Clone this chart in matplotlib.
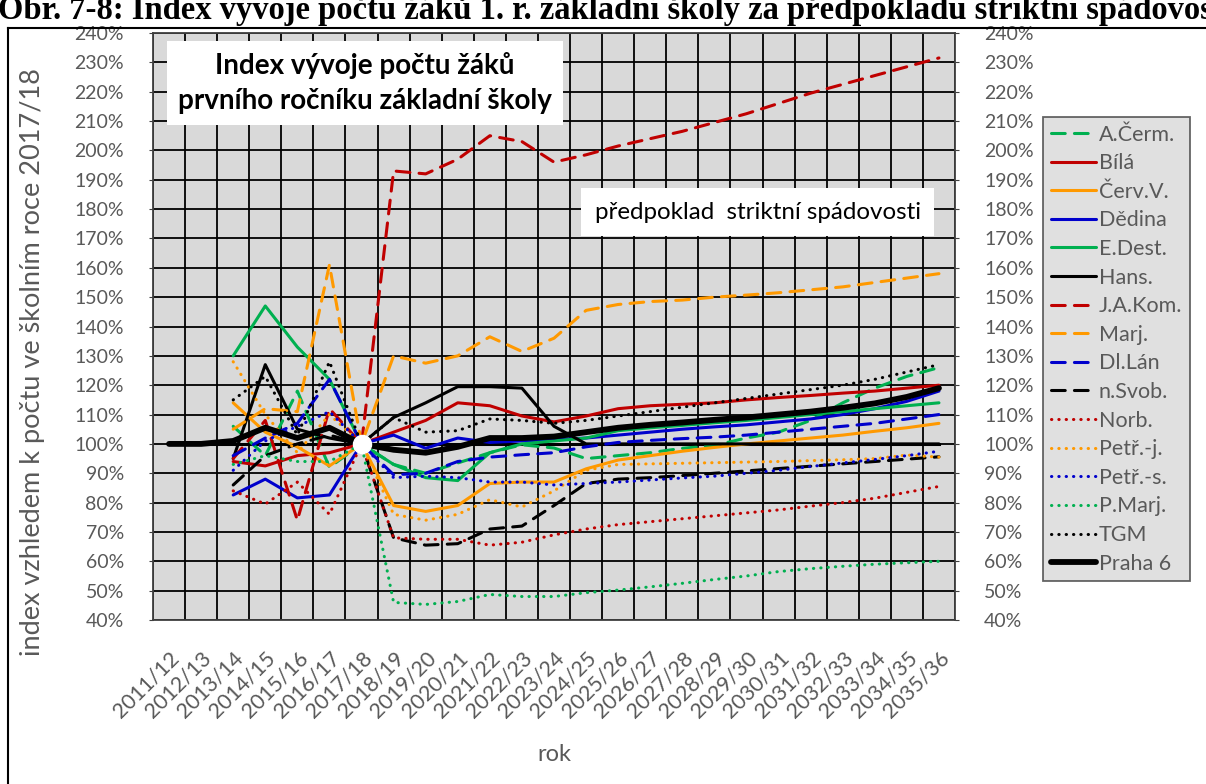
import numpy as np
import matplotlib.pyplot as plt
from matplotlib.lines import Line2D

plt.rcParams['font.family'] = ['Lato', 'DejaVu Sans']

# school years on the x axis
years = ['2011/12', '2012/13', '2013/14', '2014/15', '2015/16', '2016/17', '2017/18',
         '2018/19', '2019/20', '2020/21', '2021/22', '2022/23', '2023/24', '2024/25',
         '2025/26', '2026/27', '2027/28', '2028/29', '2029/30', '2030/31', '2031/32',
         '2032/33', '2033/34', '2034/35', '2035/36']

n = None
# index values in % (2017/18 = 100)
a_cerm = [n, n, 106, 96, 118, 92, 100, 93, 90, 93.5, 97, 99.7, 98.6, 95, 96, 97, 98.5,
          99.5, 102, 104, 108, 114, 119, 123, 126]
bila = [n, n, 94, 92.5, 96, 97, 100, 104, 108, 114, 113, 109.5, 107.5, 109.5, 112, 113,
        113.5, 114, 115, 115.8, 116.5, 117.3, 118, 119, 120]
cerv_v = [n, n, 114, 104, 99, 92.5, 100, 79, 77, 79, 86.5, 87, 87, 91.5, 94.5, 96, 97.5,
          98.8, 100, 101, 102, 103, 104.3, 105.5, 107]
dedina = [n, n, 82.6, 88, 81.6, 82.6, 100, 103, 98.5, 102, 100.5, 101, 101.5, 102, 103,
          104, 105, 105.8, 106.5, 107.5, 108.5, 110, 112, 114.5, 118]
e_dest = [n, n, 130, 147, 133, 122, 100, 93, 88.5, 87.5, 97, 100, 101, 102, 104.5, 105.5,
          106.3, 107.2, 108, 109, 110, 111, 112, 113, 114]
hans = [n, n, 95, 127, 105, 102, 100, 109, 114, 119.5, 119.5, 119, 106, 100, 100, 100,
        100, 100, 100, 100, 100, 100, 100, 100, 100]
ja_kom = [n, n, 95, 108, 74, 112, 100, 193, 192, 197, 205, 203, 196, 198.5, 201.5, 204,
          206.5, 209.5, 212.5, 216, 219.5, 222.5, 225.5, 228.5, 231.5]
marj = [n, n, 105, 112, 111, 161, 100, 130, 127.5, 130, 136.5, 131.5, 136, 145.5, 147.5,
        148.5, 149, 150, 150.7, 151.5, 152.5, 153.5, 155, 156.5, 158]
dl_lan = [n, n, 96, 102, 107, 122, 100, 89.5, 90, 94, 95.5, 96.3, 97, 99, 100.5, 101.2,
          101.8, 102.3, 103, 104, 105, 106, 107, 108.5, 110]
n_svob = [n, n, 86, 96, 100, 103, 100, 68, 65.5, 66, 71, 72, 79, 86.5, 88, 88.5, 89.2,
          90, 90.8, 91.6, 92.4, 93.2, 94, 94.8, 95.6]
norb = [n, n, 84, 79.5, 87, 76, 100, 68, 67.5, 67.5, 65.5, 66.5, 69, 71, 72.5, 73.5, 74.5,
        75.5, 76.5, 77.5, 78.8, 80, 81.5, 83.5, 85.5]
petr_j = [n, n, 128, 110, 97, 110, 100, 76, 74, 76, 81, 78.5, 84, 91, 93, 93.2, 93.4,
          93.6, 93.8, 94, 94.3, 94.6, 95, 96.2, 95.5]
petr_s = [n, n, 91, 101, 106, 111, 100, 88.5, 89, 88.5, 87, 87, 86, 86.5, 87, 87.7, 88.4,
          89, 90, 91, 92.3, 93.5, 94.7, 96, 97.5]
p_marj = [n, n, 93, 96, 94, 94, 100, 46, 45.3, 46.3, 48.7, 48, 48, 49.3, 50.2, 51.3, 52.5,
          53.8, 55, 56.5, 57.5, 58.3, 59, 59.5, 60]
tgm = [n, n, 115, 123, 103, 128, 100, 109, 104, 104.5, 108.5, 108, 107, 108, 109.5, 111,
       112.5, 114, 115.5, 117, 118.5, 120, 122, 124.5, 127]
praha6 = [100, 100, 101, 105.5, 102, 105.5, 100, 98, 97, 99, 102, 102, 102.5, 104, 105.5,
          106.5, 107.3, 108.2, 109, 110, 111, 112.3, 113.8, 116, 119]
base = [100, 100, 100, 100, 100, 100, 100, 100, 100, 100, 100, 100, 100, 100, 100, 100,
        100, 100, 100, 100, 100, 100, 100, 100, 100]

GREEN, RED, ORANGE, BLUE, BLACK = '#00B050', '#C00000', '#FF9900', '#0000CC', '#000000'
DASH = (0, (4.5, 3))
DOT = (0, (0.1, 2.3))
LW = 2.2

series = [
    ('A.Čerm.', a_cerm, GREEN, DASH, LW),
    ('Bílá', bila, RED, '-', LW),
    ('Červ.V.', cerv_v, ORANGE, '-', LW),
    ('Dědina', dedina, BLUE, '-', LW),
    ('E.Dest.', e_dest, GREEN, '-', LW),
    ('Hans.', hans, BLACK, '-', LW),
    ('J.A.Kom.', ja_kom, RED, DASH, LW),
    ('Marj.', marj, ORANGE, DASH, LW),
    ('Dl.Lán', dl_lan, BLUE, DASH, LW),
    ('n.Svob.', n_svob, BLACK, DASH, LW),
    ('Norb.', norb, RED, DOT, LW),
    ('Petř.-j.', petr_j, ORANGE, DOT, LW),
    ('Petř.-s.', petr_s, BLUE, DOT, LW),
    ('P.Marj.', p_marj, GREEN, DOT, LW),
    ('TGM', tgm, BLACK, DOT, LW),
    ('Praha 6', praha6, BLACK, '-', 4.2),
]

W, H = 1206, 784
fig = plt.figure(figsize=(W / 100, H / 100), dpi=100)
ax = fig.add_axes([153 / W, 1 - 620 / H, (955 - 153) / W, (620 - 33) / H])
ax.set_facecolor('#D9D9D9')

x = np.arange(len(years))
ax.plot(x, base, color=BLACK, lw=LW, zorder=2)
for label, vals, col, ls, lw in series:
    v = np.array([np.nan if a is None else a for a in vals], dtype=float)
    ax.plot(x, v, color=col, ls=ls, lw=lw, label=label, zorder=3,
            dash_capstyle='round', solid_capstyle='round')
ax.plot(x[6], praha6[6], 'o', ms=13, mfc='white', mec='white', zorder=5)

ax.set_xlim(-0.5, len(years) - 0.5)
ax.set_ylim(40, 240)
ax.set_yticks(np.arange(40, 241, 10))
ax.set_yticklabels(['%d%%' % t for t in range(40, 241, 10)])
ax.set_xticks(x)
ax.set_xticklabels(years, rotation=45, ha='right', rotation_mode='anchor')
ax.set_xticks(np.arange(-0.5, len(years), 1), minor=True)
ax.grid(True, which='minor', axis='x', color='black', lw=1.3, zorder=1)
ax.grid(True, which='major', axis='y', color='black', lw=1.3, zorder=1)
ax.set_axisbelow(True)
for s in ax.spines.values():
    s.set_color('#404040')
    s.set_linewidth(1.3)

ax.tick_params(axis='y', which='major', labelsize=14, labelcolor='#595959', length=3,
               color='#404040', pad=18, right=True, labelright=True)
ax.tick_params(axis='x', which='both', length=0, labelsize=15.5, labelcolor='#595959', pad=20)

ax.set_ylabel('index vzhledem k počtu ve školním roce 2017/18', fontsize=19.5,
              color='#595959')
ax.yaxis.set_label_coords(-0.135, 0.44)
ax.set_xlabel('rok', fontsize=17, color='#595959', labelpad=16)

# title boxes inside the plot area
ax.text(0.264, 0.915, 'Index vývoje počtu žáků\nprvního ročníku základní školy',
        transform=ax.transAxes, ha='center', va='center', fontsize=20,
        fontweight='bold', linespacing=1.45, zorder=6,
        bbox=dict(boxstyle='square,pad=0.4', fc='white', ec='none'))
ax.text(0.754, 0.695, 'předpoklad  striktní spádovosti', transform=ax.transAxes,
        ha='center', va='center', fontsize=17.4, zorder=6,
        bbox=dict(boxstyle='square,pad=0.55', fc='white', ec='none'))

leg = fig.legend(loc='upper left', bbox_to_anchor=(1043 / W, 1 - 117 / H),
                 fontsize=15.5, labelcolor='#595959', frameon=True, fancybox=False,
                 handlelength=2.1, handletextpad=0.15, labelspacing=0.4,
                 borderpad=0.35, borderaxespad=0)
leg.get_frame().set_facecolor('#D9D9D9')
leg.get_frame().set_edgecolor('#404040')
leg.get_frame().set_linewidth(1.3)

# clipped figure caption and outer frame
fig.text(-2 / W, 1 - 19 / H,
         'Obr. 7-8: Index vývoje počtu žáků 1. r. základní školy za předpokladu striktní spádovosti',
         ha='left', va='baseline', fontsize=23.5, fontweight='bold',
         family=['Liberation Serif', 'DejaVu Serif'])
fig.add_artist(Line2D([8 / W, 8 / W], [0, 1 - 28 / H], color='black', lw=1.5))
fig.add_artist(Line2D([8 / W, 1], [1 - 28 / H, 1 - 28 / H], color='black', lw=1.5))

fig.savefig('out.png', dpi=100)
